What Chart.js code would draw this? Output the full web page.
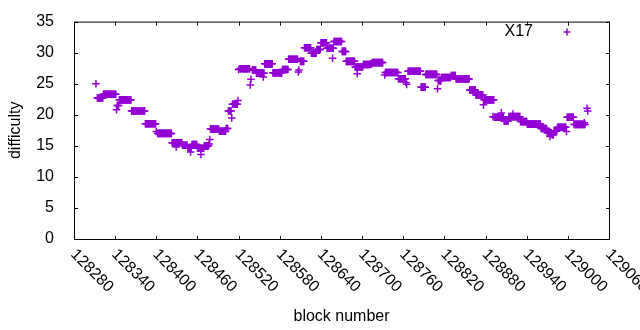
<!DOCTYPE html>
<html>
<head>
<meta charset="utf-8">
<script src="https://cdn.jsdelivr.net/npm/chart.js@4/dist/chart.umd.min.js"></script>
<style>
  body { margin: 0; background: #fff; }
  canvas { display: block; }
</style>
</head>
<body>
<canvas id="graphCanvas" width="640" height="330"></canvas>
<script>
// difficulty is flat over runs of blocks: first block, last block, value
const runFirstBlock = [
  128312, 128314, 128323, 128342, 128343, 128346, 128364, 128384, 128400, 128402,
  128423, 128429, 128438, 128446, 128450, 128452, 128460, 128465, 128470, 128477,
  128478, 128479, 128492, 128502, 128505, 128510, 128511, 128519, 128520, 128522,
  128537, 128538, 128540, 128546, 128556, 128558, 128570, 128584, 128593, 128607,
  128608, 128610, 128616, 128626, 128634, 128640, 128649, 128657, 128659, 128671,
  128677, 128690, 128693, 128702, 128712, 128715, 128733, 128734, 128753, 128764,
  128765, 128767, 128786, 128793, 128810, 128811, 128816, 128830, 128837, 128857,
  128866, 128877, 128878, 128891, 128893, 128903, 128907, 128914, 128920, 128931,
  128941, 128961, 128970, 128974, 128977, 128980, 128985, 128998, 128999, 129009,
  129024, 129028, 129029,
];
const runLastBlock = [
  128312, 128322, 128341, 128342, 128345, 128363, 128383, 128399, 128400, 128422,
  128437, 128429, 128445, 128451, 128450, 128459, 128469, 128465, 128476, 128477,
  128478, 128491, 128501, 128504, 128509, 128510, 128518, 128519, 128520, 128536,
  128537, 128538, 128545, 128557, 128556, 128569, 128583, 128592, 128606, 128607,
  128608, 128615, 128625, 128633, 128639, 128648, 128658, 128657, 128670, 128676,
  128689, 128701, 128693, 128711, 128714, 128730, 128733, 128752, 128763, 128764,
  128765, 128785, 128792, 128809, 128810, 128815, 128829, 128836, 128856, 128865,
  128876, 128877, 128892, 128891, 128906, 128903, 128913, 128930, 128920, 128940,
  128960, 128969, 128976, 128974, 128979, 128984, 128997, 128998, 129008, 129025,
  129024, 129028, 129029,
];
const runDifficulty = [
  25.0, 22.7, 23.3, 20.8, 21.5, 22.4, 20.6, 18.55, 17.3, 17.0,
  15.5, 14.8, 15.1, 14.7, 14.0, 15.2, 14.6, 13.6, 15.0, 15.3,
  16.0, 17.7, 17.35, 17.8, 20.6, 19.5, 21.7, 22.3, 27.3, 27.4,
  24.8, 25.7, 27.2, 26.7, 26.1, 28.2, 26.75, 27.3, 28.95, 26.9,
  27.2, 28.6, 30.8, 29.9, 30.5, 31.6, 30.7, 29.1, 31.8, 30.2,
  28.6, 27.7, 26.6, 28.1, 28.2, 28.4, 26.4, 26.8, 25.8, 25.2,
  24.9, 27.0, 24.45, 26.5, 24.2, 25.5, 26.0, 26.3, 25.75, 24.0,
  23.2, 21.6, 22.4, 19.7, 19.6, 20.3, 19.0, 19.7, 20.1, 18.9,
  18.5, 17.8, 17.1, 16.5, 16.8, 17.4, 18.0, 17.3, 19.6, 18.45,
  18.7, 21.05, 20.6,
];
const seriesLabel = "X17";
const xTickValues = [
  128280, 128340, 128400, 128460, 128520, 128580, 128640,
  128700, 128760, 128820, 128880, 128940, 129000, 129060,
];
const yTickValues = [0, 5, 10, 15, 20, 25, 30, 35];

const POINT_COLOR = "#9400d3";
const FONT = "16px 'Liberation Sans', Arial, sans-serif";
const TIC = 4;

const points = [];
runFirstBlock.forEach((first, i) => {
  for (let block = first; block <= runLastBlock[i]; block++) {
    points.push({ x: block, y: runDifficulty[i] });
  }
});

// gnuplot look: closed border, inward mirrored tics, slanted x labels, key on the right
const gnuplotFrame = {
  id: "gnuplotFrame",
  afterDraw: (chart) => {
    const { ctx, chartArea: a, scales } = chart;
    ctx.save();
    ctx.strokeStyle = "#000";
    ctx.lineWidth = 1;
    ctx.strokeRect(a.left + 0.5, a.top + 0.5, a.right - a.left, a.bottom - a.top);

    ctx.beginPath();
    yTickValues.forEach((v) => {
      const py = Math.round(scales.y.getPixelForValue(v)) + 0.5;
      ctx.moveTo(a.left, py);
      ctx.lineTo(a.left + TIC, py);
      ctx.moveTo(a.right + 1, py);
      ctx.lineTo(a.right + 1 - TIC, py);
    });
    xTickValues.forEach((v) => {
      const px = Math.round(scales.x.getPixelForValue(v)) + 0.5;
      ctx.moveTo(px, a.bottom + 1);
      ctx.lineTo(px, a.bottom + 1 - TIC);
      ctx.moveTo(px, a.top);
      ctx.lineTo(px, a.top + TIC);
    });
    ctx.stroke();

    ctx.fillStyle = "#000";
    ctx.font = FONT;
    ctx.textAlign = "left";
    ctx.textBaseline = "middle";
    xTickValues.forEach((v) => {
      const px = scales.x.getPixelForValue(v);
      ctx.save();
      ctx.translate(px - 1, a.bottom + 13);
      ctx.rotate(Math.PI / 4);
      ctx.fillText(String(v), 0, 0);
      ctx.restore();
    });

    // key
    ctx.textAlign = "right";
    ctx.fillText(seriesLabel, 533, 32);
    ctx.strokeStyle = POINT_COLOR;
    ctx.lineWidth = 1.5;
    ctx.beginPath();
    ctx.moveTo(563.5, 32);
    ctx.lineTo(570.5, 32);
    ctx.moveTo(567, 28.5);
    ctx.lineTo(567, 35.5);
    ctx.stroke();
    ctx.restore();
  },
};

Chart.defaults.font.family = "'Liberation Sans', Arial, sans-serif";
Chart.defaults.font.size = 16;
Chart.defaults.color = "#000";

const ctx = document.getElementById("graphCanvas").getContext("2d");
const graphChart = new Chart(ctx, {
  type: "scatter",
  data: {
    datasets: [
      {
        label: seriesLabel,
        data: points,
        showLine: false,
        pointStyle: "cross",
        pointRadius: 3.8,
        pointHoverRadius: 3.8,
        borderWidth: 1.5,
        borderColor: POINT_COLOR,
        backgroundColor: POINT_COLOR,
      },
    ],
  },
  options: {
    responsive: false,
    animation: false,
    layout: {
      padding: { left: 0, right: 31, top: 19, bottom: 0 },
    },
    plugins: {
      legend: { display: false },
      tooltip: { enabled: false },
    },
    scales: {
      x: {
        type: "linear",
        min: 128280,
        max: 129060,
        grid: { display: false },
        border: { display: false },
        ticks: { display: false, stepSize: 60 },
        title: {
          display: true,
          text: "block number",
          padding: { top: 0, bottom: 4 },
        },
        afterFit: (scale) => {
          scale.height = 91;
        },
      },
      y: {
        min: 0,
        max: 35,
        grid: { display: false },
        border: { display: false },
        ticks: { stepSize: 5, padding: 12 },
        title: {
          display: true,
          text: "difficulty",
          padding: { top: 6, bottom: 0 },
        },
        afterFit: (scale) => {
          scale.width = 74;
        },
      },
    },
  },
  plugins: [gnuplotFrame],
});
</script>
</body>
</html>
